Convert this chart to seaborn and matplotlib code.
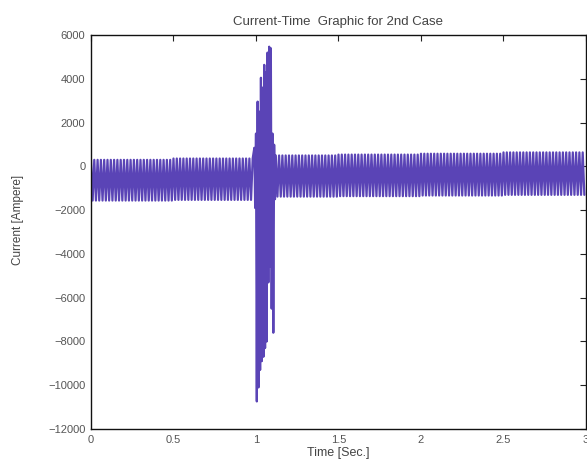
import numpy as np
import pandas as pd
import matplotlib
matplotlib.use("Agg")
import matplotlib.pyplot as plt
import seaborn as sns

# steady-state segments (start, end, positive peak, negative peak)
seg_start = [0.0, 0.5, 1.12, 1.5, 2.0, 2.5]
seg_end = [0.5, 0.99, 1.5, 2.0, 2.5, 3.0]
seg_high = [300, 360, 500, 540, 580, 640]
seg_low = [-1560, -1530, -1380, -1360, -1330, -1300]

# fault transient around t = 1 s, peak by peak
fault_time = [0.990, 0.995, 1.000, 1.005, 1.010, 1.015, 1.020, 1.025, 1.030, 1.035,
              1.040, 1.045, 1.050, 1.055, 1.060, 1.065, 1.070, 1.075, 1.080, 1.085,
              1.090, 1.095, 1.100, 1.105, 1.110, 1.115]
fault_current = [850, -1900, 1500, -10740, 2960, -10100, 2500, -9300, 4050, -8900,
                 3600, -8700, 4640, -8300, 4300, -8000, 5200, -5300, 5470, -4570,
                 5400, -6500, 1500, -7600, 990, -1500]

half_period = 0.01  # 50 Hz

t_all = []
i_all = []
for k in range(len(seg_start)):
    ts = np.arange(seg_start[k], seg_end[k], half_period)
    vals = [seg_high[k] if j % 2 == 0 else seg_low[k] for j in range(len(ts))]
    t_all.extend(ts)
    i_all.extend(vals)
    if k == 1:
        t_all.extend(fault_time)
        i_all.extend(fault_current)

df = pd.DataFrame({"Time": t_all, "Current": i_all})

sns.set_theme(style="white")
plt.rcParams["font.family"] = ["Liberation Sans", "DejaVu Sans"]

fig = plt.figure(figsize=(5.87, 4.68), dpi=100)
ax = fig.add_axes([0.155, 0.0833, 0.8433, 0.8417])

sns.lineplot(data=df, x="Time", y="Current", ax=ax, sort=False, estimator=None,
             color="#5a44b6", linewidth=1.6)

ax.set_xlim(0, 3)
ax.set_ylim(-12000, 6000)
ax.set_xticks([0, 0.5, 1, 1.5, 2, 2.5, 3])
ax.set_xticklabels(["0", "0.5", "1", "1.5", "2", "2.5", "3"])
ax.set_yticks(np.arange(-12000, 6001, 2000))
ax.tick_params(direction="in", top=True, right=True, length=4, width=0.8,
               labelsize=8, colors="#222222", labelcolor="#555555", pad=4)
for s in ax.spines.values():
    s.set_color("#111111")
    s.set_linewidth(1.0)

ax.set_title("Current-Time  Graphic for 2nd Case", fontsize=9.5, color="#444444", pad=7)
ax.set_xlabel("Time [Sec.]", fontsize=9, color="#444444", labelpad=2)
ax.set_ylabel("Current [Ampere]", fontsize=8.5, color="#444444")
ax.yaxis.set_label_coords(-0.135, 0.53)

fig.savefig("out.png", dpi=100)
